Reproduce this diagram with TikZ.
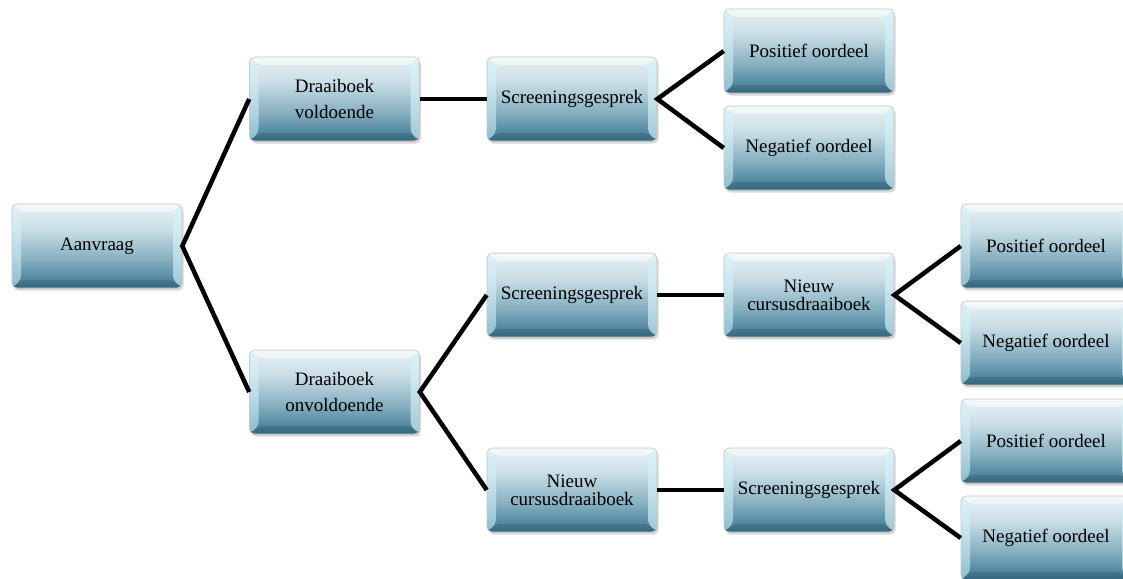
\documentclass[tikz,border=0pt]{standalone}
\usepackage{fontspec}
\setmainfont{Liberation Serif}
\usetikzlibrary{shadows}
\definecolor{shBot}{HTML}{2A637D}
\definecolor{shBot2}{HTML}{3E7A94}
\definecolor{shMid}{HTML}{86AFC0}
\definecolor{shMid2}{HTML}{C9DEE6}
\definecolor{shTop2}{HTML}{EEF5F7}
\definecolor{shTop}{HTML}{F9FCFC}
\definecolor{bevelHi}{HTML}{D6F2FA}
\pgfdeclareverticalshading{boxshade}{100bp}{color(0bp)=(shBot); color(12bp)=(shBot); color(26bp)=(shBot2); color(42bp)=(shMid); color(60bp)=(shMid2); color(78bp)=(shTop2); color(100bp)=(shTop)}
\tikzset{
  bevelbox/.style={
    rectangle, rounded corners=5pt, minimum width=170pt, minimum height=84pt,
    inner sep=2pt, align=center, text=black,
    font=\fontsize{19}{26}\selectfont,
    shading=boxshade, draw=gray!45, line width=0.6pt,
    drop shadow={opacity=0.3, shadow xshift=1.5pt, shadow yshift=-2.5pt},
    path picture={
      \path (path picture bounding box.north west) coordinate (bnw)
            (path picture bounding box.north east) coordinate (bne)
            (path picture bounding box.south west) coordinate (bsw)
            (path picture bounding box.south east) coordinate (bse);
      \fill[white, opacity=0.5] (bnw) -- (bne) -- ([shift={(-9pt,-8pt)}]bne) -- ([shift={(9pt,-8pt)}]bnw) -- cycle;
      \fill[bevelHi, opacity=0.55] (bnw) -- ([shift={(9pt,-8pt)}]bnw) -- ([shift={(9pt,8pt)}]bsw) -- (bsw) -- cycle;
      \fill[bevelHi, opacity=0.65] (bne) -- ([shift={(-9pt,-8pt)}]bne) -- ([shift={(-9pt,8pt)}]bse) -- (bse) -- cycle;
      \fill[black, opacity=0.12] (bsw) -- ([shift={(9pt,8pt)}]bsw) -- ([shift={(-9pt,8pt)}]bse) -- (bse) -- cycle;
    }
  },
  tight/.style={font=\fontsize{19}{18}\selectfont},
  conn/.style={line width=4.5pt, black}
}
\begin{document}
\begin{tikzpicture}[x=1pt, y=-1pt]
\path[use as bounding box, clip] (0,0) rectangle (1123,578);
\fill[white] (0,0) rectangle (1123,578);

\node[bevelbox] (a)   at (97,246)   {Aanvraag};
\node[bevelbox] (dv)  at (334.5,99) {Draaiboek\\voldoende};
\node[bevelbox] (s1)  at (572,99)   {Screeningsgesprek};
\node[bevelbox] (p1)  at (809,51)   {Positief oordeel};
\node[bevelbox] (n1)  at (809,148)  {Negatief oordeel};

\node[bevelbox] (do)  at (334.5,392) {Draaiboek\\onvoldoende};
\node[bevelbox] (s2)  at (572,295)  {Screeningsgesprek};
\node[bevelbox, tight] (nc2) at (809,295) {Nieuw\\cursusdraaiboek};
\node[bevelbox] (p2)  at (1046,246) {Positief oordeel};
\node[bevelbox] (n2)  at (1046,343) {Negatief oordeel};

\node[bevelbox, tight] (nc3) at (572,490) {Nieuw\\cursusdraaiboek};
\node[bevelbox] (s3)  at (809,490)  {Screeningsgesprek};
\node[bevelbox] (p3)  at (1046,441) {Positief oordeel};
\node[bevelbox] (n3)  at (1046,538) {Negatief oordeel};

\draw[conn] (dv.west) -- (a.east) -- (do.west);
\draw[conn] (dv.east) -- (s1.west);
\draw[conn] (p1.west) -- (s1.east) -- (n1.west);
\draw[conn] (s2.west) -- (do.east) -- (nc3.west);
\draw[conn] (s2.east) -- (nc2.west);
\draw[conn] (p2.west) -- (nc2.east) -- (n2.west);
\draw[conn] (nc3.east) -- (s3.west);
\draw[conn] (p3.west) -- (s3.east) -- (n3.west);
\end{tikzpicture}
\end{document}
